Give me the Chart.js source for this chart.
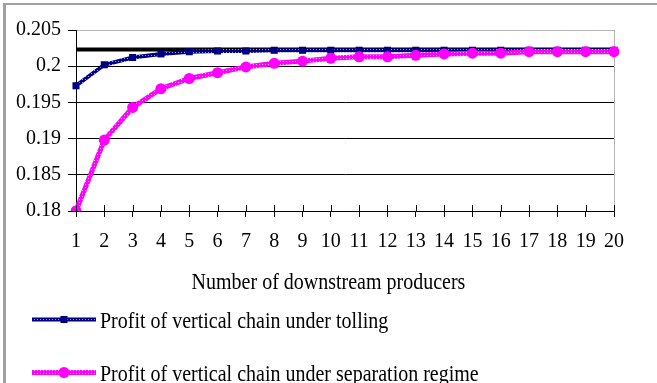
<!DOCTYPE html>
<html>
<head>
<meta charset="utf-8">
<script src="https://cdn.jsdelivr.net/npm/chart.js@4/dist/chart.umd.min.js"></script>
<style>
  html, body { margin: 0; padding: 0; background: #fff; }
  #wrap { position: relative; width: 657px; height: 383px; overflow: hidden; }
  #frame { position: absolute; left: 3px; top: 3px; width: 800px; height: 500px;
           border-left: 3px solid #a0a0a0; border-top: 2px solid #a0a0a0; }
  #c { position: absolute; left: 0; top: 0; }
</style>
</head>
<body>
<div id="wrap">
  <div id="frame"></div>
  <canvas id="c" width="657" height="383"></canvas>
</div>
<script>
// ---- data ----
const categories = ['1','2','3','4','5','6','7','8','9','10','11','12','13','14','15','16','17','18','19','20'];
const tollingProfit = [0.1973, 0.2002, 0.2012, 0.2017, 0.2020, 0.2021, 0.2021, 0.2022, 0.2022, 0.2022,
                       0.2022, 0.2022, 0.2022, 0.2022, 0.2022, 0.2022, 0.2022, 0.2022, 0.2022, 0.2022];
const separationProfit = [0.1800, 0.1898, 0.1943, 0.1969, 0.1983, 0.1991, 0.1999, 0.2004, 0.2007, 0.2011,
                          0.2013, 0.2013, 0.2015, 0.2017, 0.2018, 0.2018, 0.2020, 0.2020, 0.2020, 0.2020];
const integratedProfit = [0.2023, 0.2023, 0.2023, 0.2023, 0.2023, 0.2023, 0.2023, 0.2023, 0.2023, 0.2023,
                          0.2023, 0.2023, 0.2023, 0.2023, 0.2023, 0.2023, 0.2023, 0.2023, 0.2023, 0.2023];
const yTickValues = [0.18, 0.185, 0.19, 0.195, 0.2, 0.205];
const yTickLabels = ['0.18', '0.185', '0.19', '0.195', '0.2', '0.205'];
const seriesNames = ['Profit of vertical chain under tolling', 'Profit of vertical chain under separation regime', 'Profit of integrated firm'];
const xTitle = 'Number of downstream producers';

// ---- styling helpers ----
const FONT = '"Liberation Serif", "Times New Roman", serif';
function hatch(base, dot) {
  const c = document.createElement('canvas');
  c.width = 3; c.height = 3;
  const g = c.getContext('2d');
  g.fillStyle = base; g.fillRect(0, 0, 3, 3);
  g.fillStyle = dot; g.fillRect(1, 1, 1, 1);
  return g.createPattern(c, 'repeat');
}
const navyPattern = hatch('#000080', '#9a9ae0');
const pinkPattern = hatch('#ff00ff', '#ffb8ff');

function tallText(ctx, text, x, y) {
  ctx.save();
  ctx.translate(x, y);
  ctx.scale(1, 1.15);
  ctx.fillText(text, 0, 0);
  ctx.restore();
}

const extras = {
  id: 'extras',
  afterDraw(chart) {
    const { ctx, chartArea, scales } = chart;
    const xs = scales.x;
    ctx.save();
    // tick marks above the x axis
    ctx.strokeStyle = '#000';
    ctx.lineWidth = 1;
    xs.ticks.forEach((t, i) => {
      const px = Math.round(xs.getPixelForTick(i)) + 0.5;
      ctx.beginPath();
      ctx.moveTo(px, chartArea.bottom);
      ctx.lineTo(px, chartArea.bottom - 6);
      ctx.stroke();
    });
    // x axis title, centred on the whole chart
    ctx.font = '20px ' + FONT;
    ctx.fillStyle = '#000';
    ctx.textAlign = 'center';
    ctx.textBaseline = 'alphabetic';
    tallText(ctx, xTitle, chart.width / 2, chartArea.bottom + 78);
    // legend (vertical list)
    const rows = [chartArea.bottom + 108.5, chartArea.bottom + 161.5];
    let r = 0;
    chart.data.datasets.forEach(ds => {
      if (ds.hideInLegend) return;
      const cy = rows[r++];
      const x0 = chartArea.left - 44, x1 = chartArea.left + 20;
      ctx.strokeStyle = ds.borderColor;
      ctx.lineWidth = ds.borderWidth;
      ctx.beginPath();
      ctx.moveTo(x0, cy); ctx.lineTo(x1, cy);
      ctx.stroke();
      const mx = (x0 + x1) / 2;
      ctx.fillStyle = ds.pointBackgroundColor;
      if (ds.pointStyle === 'rect') {
        const s = ds.pointRadius * Math.SQRT1_2;
        ctx.fillRect(mx - s, cy - s, 2 * s, 2 * s);
      } else {
        ctx.beginPath();
        ctx.arc(mx, cy, ds.pointRadius, 0, Math.PI * 2);
        ctx.fill();
      }
      ctx.fillStyle = '#000';
      ctx.textAlign = 'left';
      ctx.textBaseline = 'alphabetic';
      tallText(ctx, ds.label, x1 + 4, cy + 8.5);
    });
    ctx.restore();
  }
};

new Chart(document.getElementById('c'), {
  type: 'line',
  data: {
    labels: categories,
    datasets: [
      {
        label: seriesNames[0], data: tollingProfit, order: 1,
        borderColor: navyPattern, borderWidth: 4,
        pointStyle: 'rect', pointRadius: 5, pointHoverRadius: 5,
        pointBackgroundColor: '#000080', pointBorderColor: '#000080', pointBorderWidth: 0,
        tension: 0, fill: false
      },
      {
        label: seriesNames[1], data: separationProfit, order: 0,
        borderColor: pinkPattern, borderWidth: 5,
        pointStyle: 'circle', pointRadius: 5.5, pointHoverRadius: 5.5,
        pointBackgroundColor: '#ff00ff', pointBorderColor: '#ff00ff', pointBorderWidth: 0,
        tension: 0, fill: false
      },
      {
        label: seriesNames[2], data: integratedProfit, order: 2, hideInLegend: true,
        borderColor: '#000', borderWidth: 4, pointRadius: 0, pointHoverRadius: 0,
        tension: 0, fill: false
      }
    ]
  },
  options: {
    responsive: false,
    devicePixelRatio: 1,
    animation: false,
    events: [],
    layout: { padding: { left: 0, top: 30, right: 43, bottom: 132 } },
    plugins: { legend: { display: false }, tooltip: { enabled: false } },
    scales: {
      x: {
        type: 'category',
        offset: false,
        border: { display: true, color: '#000', width: 1 },
        grid: {
          drawOnChartArea: true,
          color: ctx => (ctx.index === categories.length - 1 ? '#b4b4b4' : 'rgba(0,0,0,0)'),
          tickColor: '#000',
          tickLength: 6
        },
        ticks: {
          color: '#000', font: { family: FONT, size: 20 }, padding: 13,
          maxRotation: 0, autoSkip: false
        },
        afterFit: s => { s.height = 40; }
      },
      y: {
        min: 0.18, max: 0.205,
        afterBuildTicks: s => { s.ticks = yTickValues.map(v => ({ value: v })); },
        border: { display: true, color: '#000', width: 1 },
        grid: {
          color: ctx => (ctx.tick && Math.abs(ctx.tick.value - 0.205) < 1e-9 ? '#b4b4b4' : '#000'),
          tickColor: '#000',
          tickLength: 8
        },
        ticks: {
          color: '#000', font: { family: FONT, size: 20 }, padding: 7,
          callback: (v, i) => yTickLabels[i]
        },
        afterFit: s => { s.width = 76; }
      }
    }
  },
  plugins: [extras]
});
</script>
</body>
</html>
